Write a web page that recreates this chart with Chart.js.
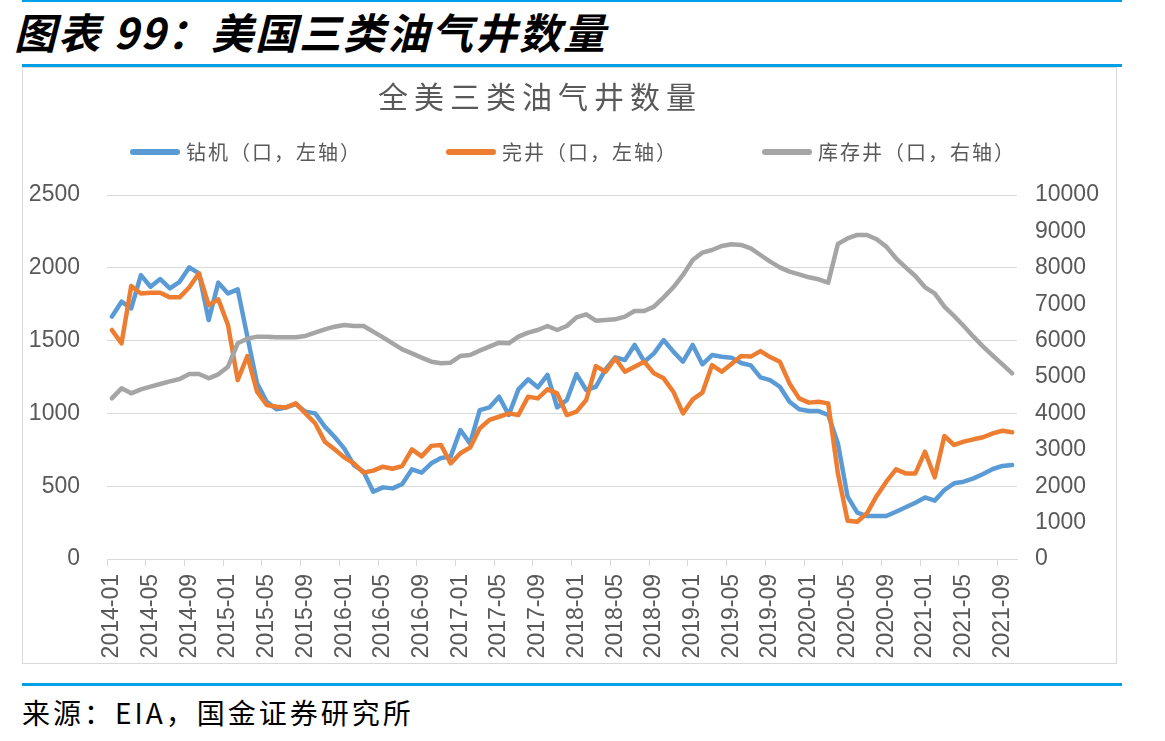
<!DOCTYPE html>
<html>
<head>
<meta charset="utf-8">
<script src="https://cdn.jsdelivr.net/npm/chart.js@4.4.1/dist/chart.umd.min.js"></script>
<style>
  html, body { margin:0; padding:0; background:#fff; width:1165px; height:741px; overflow:hidden; position:relative; font-family:"Noto Sans CJK SC", sans-serif; }
  .bar { position:absolute; left:22px; width:1100px; height:3px; background:#00A0E9; }
  #hdr { position:absolute; left:14px; top:6px; font-size:42px; line-height:50px; font-weight:bold; font-style:italic; letter-spacing:2px; color:#000; white-space:nowrap; }
  #box { position:absolute; left:22px; top:67px; width:1093px; height:595px; border:1px solid #D9D9D9; }
  #c { position:absolute; left:0; top:0; }
  #src { position:absolute; left:22px; top:694px; font-size:28px; line-height:36px; letter-spacing:3px; color:#000; white-space:nowrap; }
</style>
</head>
<body>
<div class="bar" style="top:0px;height:2px;"></div>
<div id="hdr">图表 99：美国三类油气井数量</div>
<div class="bar" style="top:64px;"></div>
<div id="box"><canvas id="c" width="1093" height="595"></canvas></div>
<div class="bar" style="top:683px;"></div>
<div id="src">来源：EIA，国金证券研究所</div>
<script>
const chartTitle = '全美三类油气井数量';
const seriesNames = ['钻机（口，左轴）', '完井（口，左轴）', '库存井（口，右轴）'];
const months = [
  '2014-01','2014-02','2014-03','2014-04','2014-05','2014-06','2014-07','2014-08','2014-09','2014-10','2014-11','2014-12',
  '2015-01','2015-02','2015-03','2015-04','2015-05','2015-06','2015-07','2015-08','2015-09','2015-10','2015-11','2015-12',
  '2016-01','2016-02','2016-03','2016-04','2016-05','2016-06','2016-07','2016-08','2016-09','2016-10','2016-11','2016-12',
  '2017-01','2017-02','2017-03','2017-04','2017-05','2017-06','2017-07','2017-08','2017-09','2017-10','2017-11','2017-12',
  '2018-01','2018-02','2018-03','2018-04','2018-05','2018-06','2018-07','2018-08','2018-09','2018-10','2018-11','2018-12',
  '2019-01','2019-02','2019-03','2019-04','2019-05','2019-06','2019-07','2019-08','2019-09','2019-10','2019-11','2019-12',
  '2020-01','2020-02','2020-03','2020-04','2020-05','2020-06','2020-07','2020-08','2020-09','2020-10','2020-11','2020-12',
  '2021-01','2021-02','2021-03','2021-04','2021-05','2021-06','2021-07','2021-08','2021-09','2021-10'
];
const rigs = [
  1664,1767,1721,1950,1870,1923,1859,1904,2003,1962,1641,1898,
  1824,1852,1527,1206,1080,1028,1041,1064,1012,1000,909,840,
  760,645,600,462,492,485,515,616,593,657,694,703,
  886,794,1023,1041,1115,989,1165,1234,1179,1264,1041,1092,
  1270,1161,1183,1302,1385,1367,1470,1355,1412,1504,1424,1355,
  1470,1337,1401,1389,1383,1346,1330,1247,1229,1183,1080,1028,
  1016,1016,989,794,428,318,295,295,295,325,355,387,
  423,401,474,520,531,554,584,618,639,645
];
const completions = [
  1573,1481,1875,1824,1829,1829,1797,1797,1866,1962,1744,1783,
  1607,1229,1394,1149,1058,1046,1041,1069,1000,932,806,753,
  698,657,593,607,634,620,639,753,705,777,783,657,
  726,765,897,955,977,1000,989,1115,1103,1165,1138,989,
  1012,1092,1325,1286,1378,1286,1321,1355,1275,1241,1149,1000,
  1096,1142,1332,1286,1339,1394,1390,1428,1387,1355,1206,1103,
  1074,1080,1069,588,263,256,314,433,531,616,588,588,
  737,561,845,783,806,822,836,863,881,870
];
const inventory = [
  4414,4689,4552,4661,4735,4808,4881,4945,5083,5083,4964,5074,
  5284,5925,6053,6108,6108,6090,6090,6090,6127,6218,6310,6383,
  6429,6401,6401,6246,6090,5925,5760,5650,5531,5421,5376,5394,
  5577,5605,5724,5834,5944,5925,6108,6218,6292,6401,6292,6401,
  6640,6722,6548,6566,6585,6658,6814,6814,6933,7189,7464,7803,
  8215,8416,8490,8599,8645,8627,8535,8352,8169,8013,7894,7821,
  7739,7684,7592,8654,8810,8902,8902,8783,8581,8261,8013,7775,
  7464,7299,6933,6676,6401,6108,5834,5586,5348,5101
];
const leftTicks = { min:0, max:2500, step:500 };
const rightTicks = { min:0, max:10000, step:1000 };

const TICK_FONT = { family:'"Liberation Sans", Arial, sans-serif', size:23 };
const GREY_TEXT = '#595959';
const GRID = '#D9D9D9';

const titleLegendPlugin = {
  id:'titleLegend',
  afterDraw(chart){
    const c = chart.ctx;
    c.save();
    c.fillStyle = GREY_TEXT;
    c.font = '30px "Noto Sans CJK SC"';
    c.letterSpacing = '6px';
    c.textAlign = 'center';
    c.textBaseline = 'middle';
    c.fillText(chartTitle, 517, 29);
    c.font = '20px "Noto Sans CJK SC"';
    c.letterSpacing = '2px';
    c.textAlign = 'left';
    let x = 107; const y = 84;
    chart.data.datasets.forEach(ds => {
      c.strokeStyle = ds.borderColor; c.lineWidth = 6; c.lineCap = 'round';
      c.beginPath(); c.moveTo(x + 3, y); c.lineTo(x + 47, y); c.stroke();
      x += 56;
      c.fillText(ds.label, x, y);
      x += c.measureText(ds.label).width + 84;
    });
    c.restore();
  }
};

const plainNumber = v => String(v);

new Chart(document.getElementById('c'), {
  type:'line',
  data:{
    labels: months,
    datasets:[
      { label:seriesNames[0], data:rigs, borderColor:'#5B9BD5', backgroundColor:'#5B9BD5', yAxisID:'y', order:3 },
      { label:seriesNames[1], data:completions, borderColor:'#ED7D31', backgroundColor:'#ED7D31', yAxisID:'y', order:2 },
      { label:seriesNames[2], data:inventory, borderColor:'#A5A5A5', backgroundColor:'#A5A5A5', yAxisID:'y1', order:1 }
    ]
  },
  options:{
    responsive:false, animation:false, devicePixelRatio:1,
    layout:{ padding:{ top:127, left:0, right:0, bottom:0 } },
    elements:{ point:{ radius:0 }, line:{ borderWidth:4.5, tension:0, borderCapStyle:'round', borderJoinStyle:'round' } },
    plugins:{ legend:{ display:false }, title:{ display:false }, tooltip:{ enabled:false } },
    scales:{
      x:{
        type:'category', offset:true,
        grid:{ offset:true, drawOnChartArea:false, tickLength:7, lineWidth:1,
               color: ctx => (ctx.index % 4 === 0 ? GRID : 'rgba(0,0,0,0)') },
        border:{ display:true, color:GRID, width:1 },
        ticks:{ autoSkip:false, maxRotation:90, minRotation:90, padding:8, color:GREY_TEXT, font:TICK_FONT,
                callback:function(v, i){ return i % 4 === 0 ? this.getLabelForValue(v) : ''; } },
        afterFit: s => { s.height = 104; }
      },
      y:{
        position:'left', min:leftTicks.min, max:leftTicks.max,
        ticks:{ stepSize:leftTicks.step, padding:27, color:GREY_TEXT, font:TICK_FONT, callback:plainNumber },
        grid:{ color:GRID, lineWidth:1, drawTicks:false },
        border:{ display:false },
        afterFit: s => { s.width = 84; }
      },
      y1:{
        position:'right', min:rightTicks.min, max:rightTicks.max,
        ticks:{ stepSize:rightTicks.step, padding:18, color:GREY_TEXT, font:TICK_FONT, callback:plainNumber },
        grid:{ display:false, drawTicks:false },
        border:{ display:false },
        afterFit: s => { s.width = 99; }
      }
    }
  },
  plugins:[titleLegendPlugin]
});
</script>
</body>
</html>
